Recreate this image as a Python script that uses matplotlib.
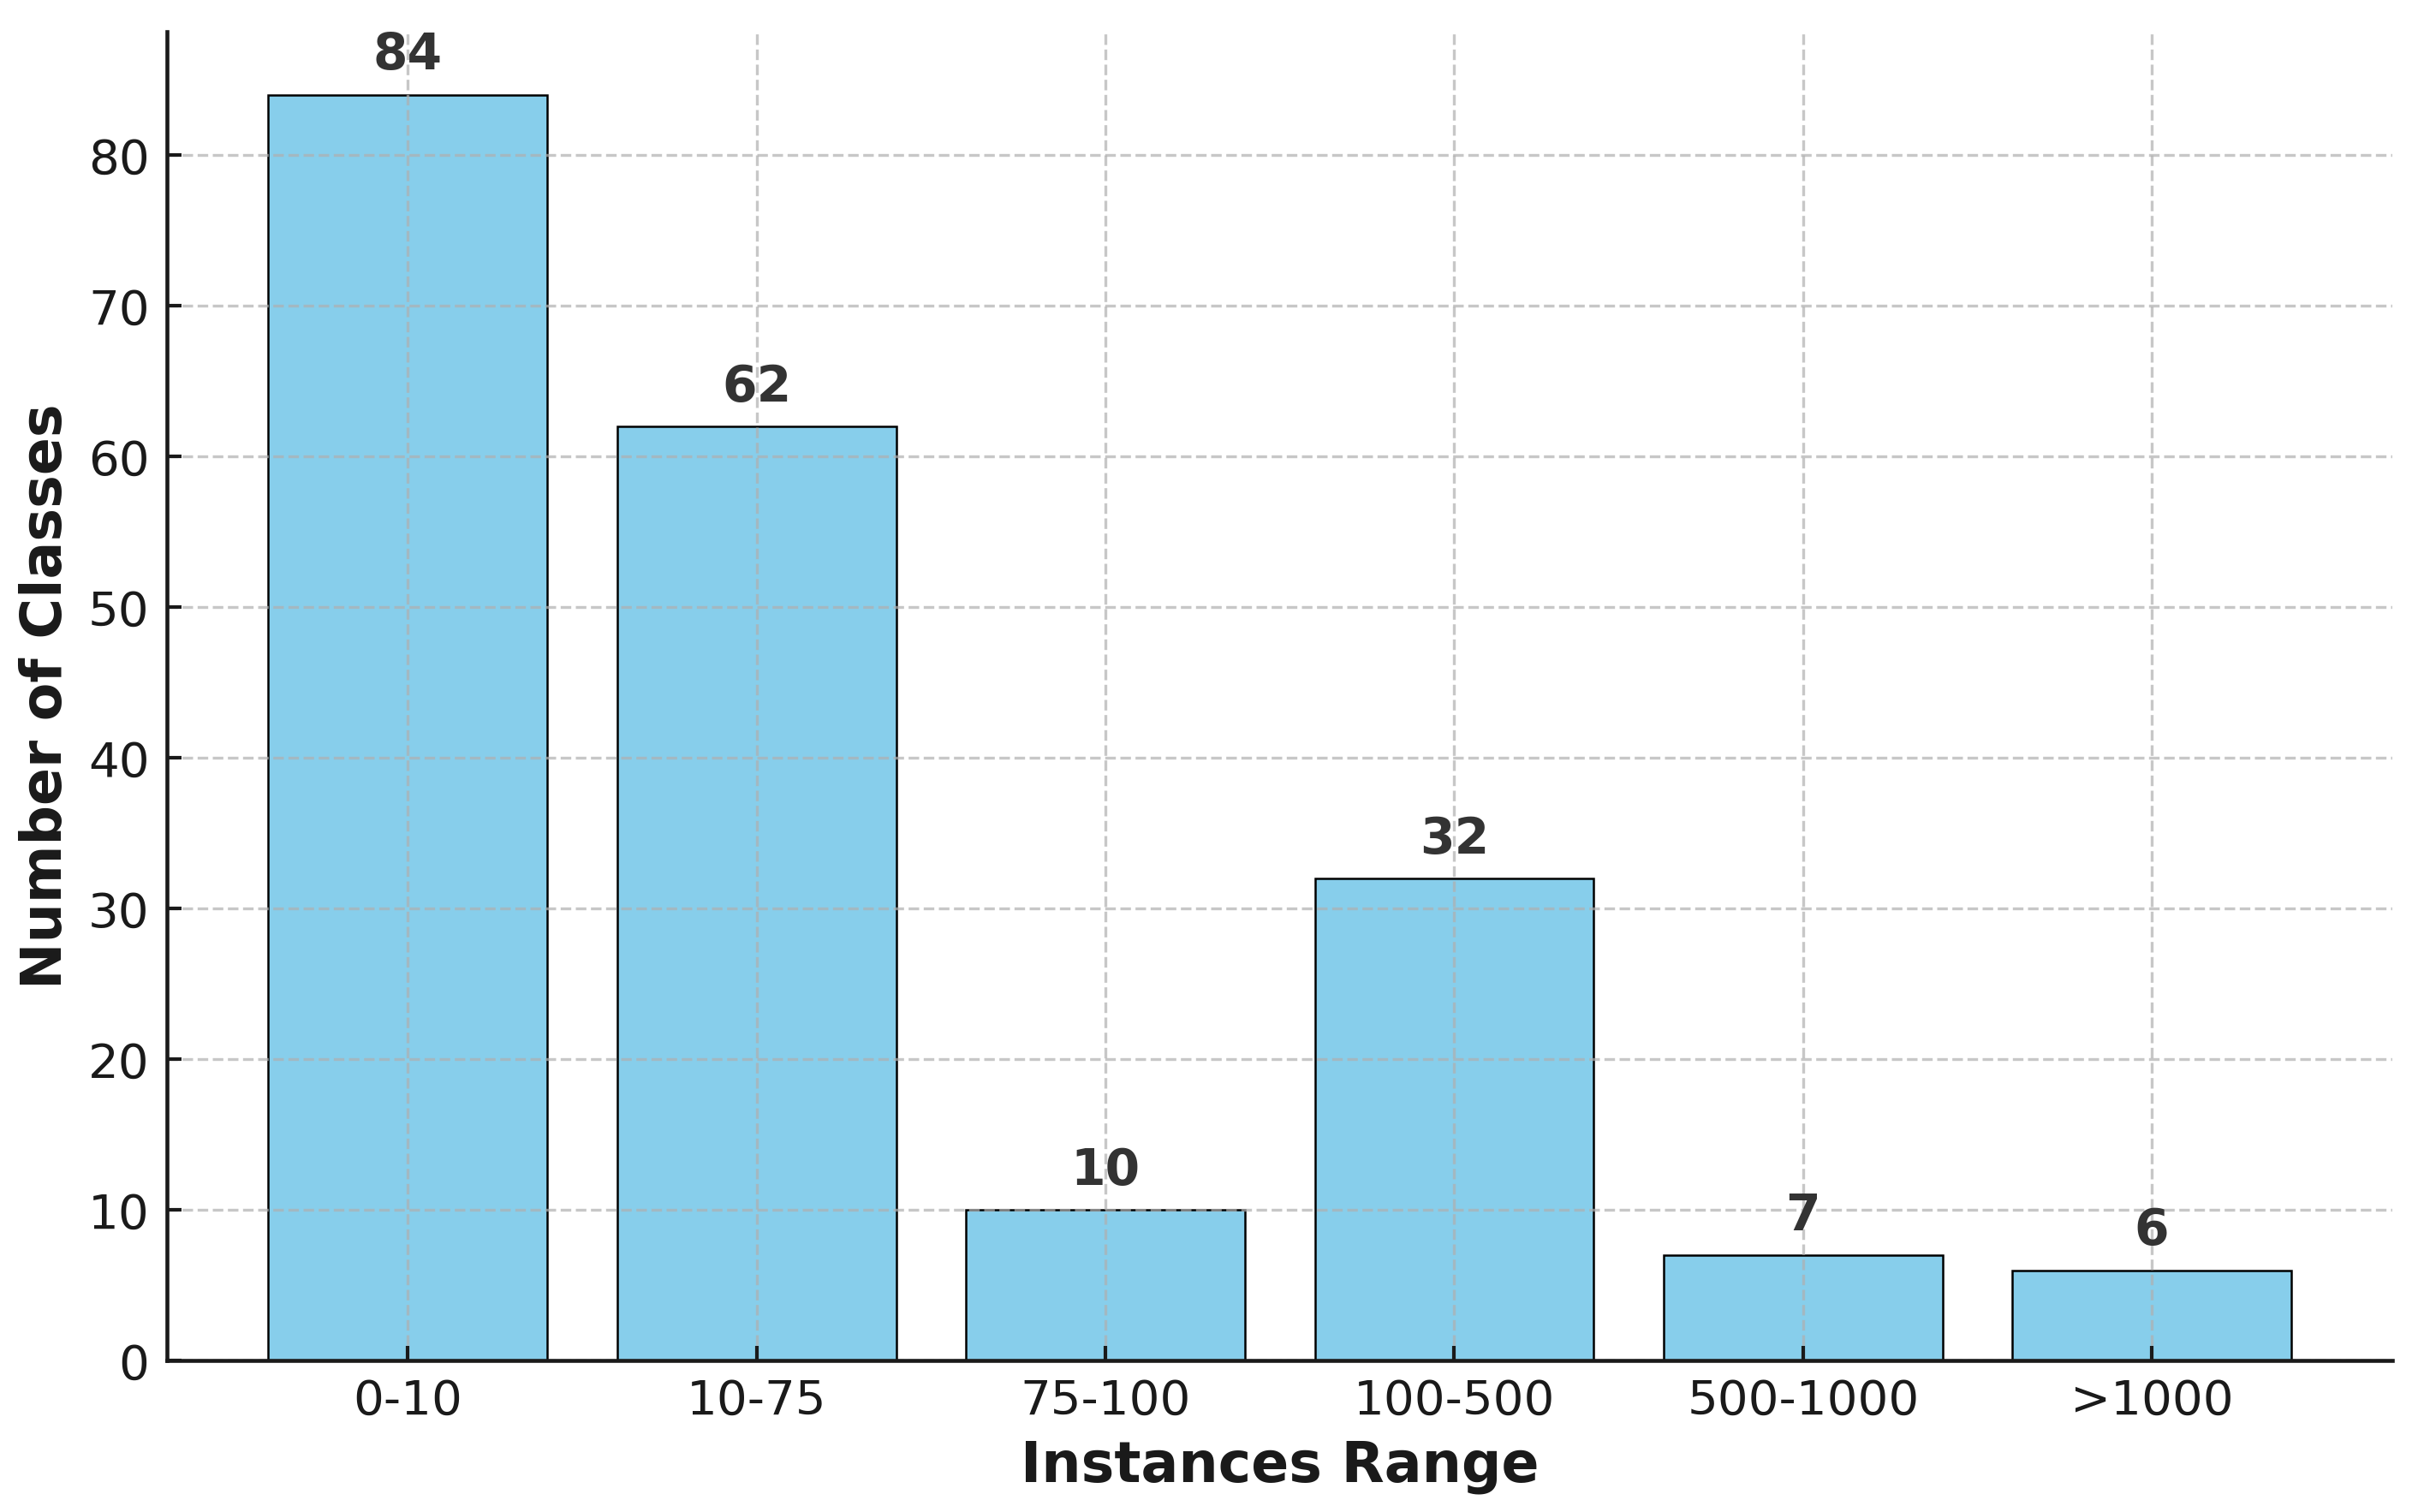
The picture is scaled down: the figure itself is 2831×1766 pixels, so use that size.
import matplotlib
matplotlib.use('Agg')
import matplotlib.pyplot as plt

# class counts per instance range
ranges = ['0-10', '10-75', '75-100', '100-500', '500-1000', '>1000']
num_classes = [84, 62, 10, 32, 7, 6]


def main():
    fig, ax = plt.subplots(figsize=(2831 / 300, 1766 / 300), dpi=300)
    fig.subplots_adjust(left=0.069, right=0.987, bottom=0.1, top=0.979)

    bars = ax.bar(ranges, num_classes, color='skyblue', edgecolor='black', linewidth=0.6)

    for bar, val in zip(bars, num_classes):
        ax.text(bar.get_x() + bar.get_width() / 2, val + 1, str(val),
                ha='center', va='bottom', fontsize=14, fontweight='bold', color='#333333')

    ax.set_xlabel('Instances Range', fontsize=15.6, fontweight='bold', color='#1a1a1a')
    ax.set_ylabel('Number of Classes', fontsize=15.6, fontweight='bold', color='#1a1a1a')
    ax.set_ylim(0, max(num_classes) * 1.05)

    ax.grid(True, linestyle='--', color='#b0b0b0', alpha=0.7, linewidth=0.8)
    ax.spines['top'].set_visible(False)
    ax.spines['right'].set_visible(False)
    ax.spines['left'].set_linewidth(1.1)
    ax.spines['bottom'].set_linewidth(1.1)
    ax.spines['left'].set_color('#1a1a1a')
    ax.spines['bottom'].set_color('#1a1a1a')
    ax.tick_params(direction='in', length=4, width=1.0, labelsize=13.5,
                   colors='#1a1a1a', pad=5)

    fig.savefig('out.png', dpi=300)


if __name__ == '__main__':
    main()
